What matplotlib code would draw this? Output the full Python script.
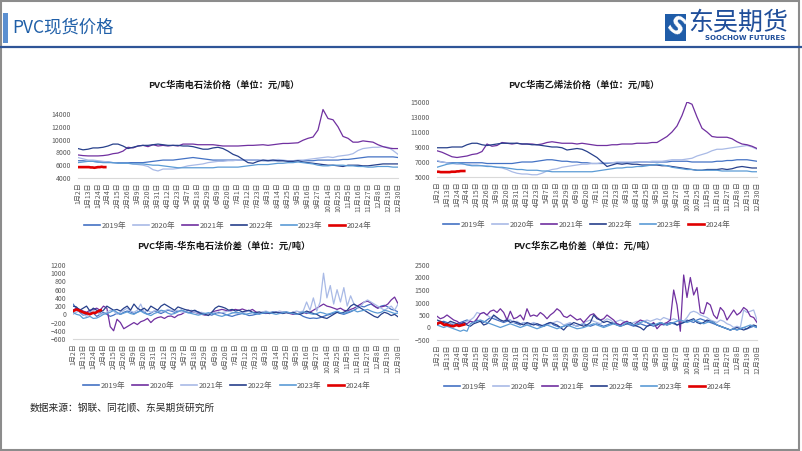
import numpy as np
import matplotlib
matplotlib.use("Agg")
import matplotlib.pyplot as plt
from matplotlib.patches import Rectangle
from matplotlib.lines import Line2D

plt.rcParams['font.family'] = ['Noto Sans CJK SC', 'DejaVu Sans']

W, H = 802, 451

years = ["2019年", "2020年", "2021年", "2022年", "2023年", "2024年"]

tick_labels = ["1月2日", "1月13日", "1月24日", "2月4日", "2月15日", "2月26日", "3月9日",
               "3月20日", "3月31日", "4月12日", "4月23日", "5月7日", "5月18日", "5月29日",
               "6月9日", "6月20日", "7月1日", "7月12日", "7月23日", "8月3日", "8月14日",
               "8月25日", "9月5日", "9月16日", "9月27日", "10月14日", "10月25日", "11月5日",
               "11月16日", "11月27日", "12月8日", "12月19日", "12月30日"]

# ---- 华南电石法价格 ----
dsf_2019 = [6700, 6700, 6600, 6600, 6500, 6500, 6500, 6400, 6400, 6400, 6400, 6400, 6400, 6400, 6500, 6600,
            6700, 6800, 6800, 6800, 6900, 7000, 7100, 7200, 7100, 7000, 6900, 6800, 6800, 6800, 6800, 6800,
            6800, 6800, 6800, 6800, 6800, 6700, 6700, 6700, 6700, 6700, 6700, 6700, 6700, 6700, 6700, 6700,
            6800, 6800, 6800, 6800, 6800, 6900, 6900, 7000, 7100, 7200, 7300, 7300, 7300, 7300, 7300, 7300, 7200]
dsf_2020 = [7200, 7000, 6800, 6800, 6700, 6600, 6500, 6400, 6300, 6300, 6300, 6200, 6100, 6000, 5800, 5300,
            5100, 5400, 5400, 5400, 5500, 5700, 5900, 6000, 6100, 6200, 6400, 6500, 6600, 6600, 6700, 6700,
            6800, 6800, 6800, 6800, 6800, 6800, 6800, 6800, 6900, 6800, 6700, 6700, 6800, 6800, 6900, 7000,
            7100, 7200, 7300, 7200, 7400, 7500, 7600, 7800, 8300, 8600, 8700, 8800, 8800, 8900, 8800, 8300, 7700]
dsf_2021 = [7600, 7500, 7450, 7450, 7450, 7500, 7600, 7800, 7900, 8200, 8800, 8700, 9000, 9100, 8900, 9200,
            9000, 9100, 9000, 9100, 9000, 9300, 9300, 9300, 9200, 9200, 9200, 9200, 9100, 9000, 9000, 9000,
            9000, 9050, 9100, 9100, 9150, 9200, 9100, 9200, 9300, 9400, 9400, 9450, 9500, 9900, 10200, 10400,
            11500, 14700, 13300, 13100, 12000, 10500, 10200, 9600, 9600, 9800, 9700, 9600, 9200, 8900, 8700, 8600, 8600]
dsf_2022 = [8600, 8400, 8500, 8700, 8700, 8800, 9000, 9300, 9300, 9000, 8600, 8800, 9000, 9100, 9100, 9200,
            9300, 9200, 9100, 9100, 9100, 9000, 9000, 8900, 8700, 8500, 8500, 8700, 8800, 8600, 8200, 7700,
            7400, 6900, 6400, 6300, 6600, 6800, 6700, 6800, 6700, 6700, 6600, 6600, 6700, 6500, 6400, 6300,
            6200, 6100, 6000, 6000, 5900, 5800, 6000, 6000, 6000, 5900, 5900, 6000, 6100, 6200, 6200, 6200, 6200]
dsf_2023 = [6400, 6500, 6600, 6600, 6500, 6400, 6400, 6400, 6300, 6300, 6300, 6200, 6200, 6200, 6100, 6000,
            6000, 5900, 5800, 5700, 5600, 5600, 5600, 5600, 5600, 5600, 5600, 5600, 5700, 5700, 5700, 5700,
            5700, 5800, 5900, 6000, 6100, 6100, 6100, 6200, 6300, 6300, 6400, 6400, 6500, 6400, 6300, 6200,
            6000, 5900, 5900, 6000, 6000, 6000, 5900, 5900, 5800, 5800, 5700, 5700, 5800, 5800, 5800, 5700, 5700]
dsf_2024 = [5700, 5700, 5700, 5700, 5700, 5700, 5700, 5650, 5650, 5600, 5650, 5700, 5700, 5750, 5700, 5700]

# ---- 华南乙烯法价格 ----
yxf_2019 = [7100, 7000, 6900, 6900, 6900, 6900, 6900, 6900, 6900, 6900, 6800, 6800, 6800, 6800, 6800, 6800,
            6900, 7000, 7000, 7000, 7100, 7200, 7300, 7300, 7200, 7100, 7100, 7000, 7000, 6900, 6900, 6800,
            6800, 6800, 6800, 6900, 6900, 6900, 6900, 6900, 7000, 7000, 7000, 7000, 7000, 7000, 7000, 7100,
            7100, 7100, 7100, 7000, 7000, 7000, 7000, 7000, 7100, 7100, 7200, 7200, 7300, 7300, 7300, 7200, 7100]
yxf_2020 = [7200, 7000, 6900, 6800, 6700, 6700, 6700, 6600, 6600, 6500, 6500, 6400, 6300, 6200, 6000, 5700,
            5500, 5400, 5400, 5300, 5300, 5500, 5800, 6000, 6100, 6300, 6400, 6500, 6600, 6700, 6700, 6800,
            6800, 6900, 6900, 6900, 7000, 7000, 7000, 7000, 7000, 7000, 7000, 7100, 7100, 7100, 7200, 7300,
            7300, 7300, 7400, 7500, 7800, 8000, 8200, 8500, 8700, 8700, 8800, 8900, 9000, 9100, 9200, 9000, 8700]
yxf_2021 = [8500, 8300, 8000, 7700, 7600, 7700, 7800, 8000, 8100, 8400, 9400, 9100, 9200, 9600, 9500, 9400,
            9500, 9400, 9400, 9400, 9300, 9400, 9600, 9700, 9600, 9500, 9500, 9500, 9400, 9500, 9400, 9300,
            9200, 9200, 9200, 9300, 9300, 9400, 9400, 9400, 9500, 9500, 9500, 9600, 9600, 10000, 10400, 11000,
            11800, 13200, 15000, 14700, 13000, 11500, 11000, 10400, 10300, 10300, 10300, 10100, 9700, 9400, 9300, 9100, 8800]
yxf_2022 = [8900, 8900, 8900, 9000, 9000, 9000, 9300, 9500, 9500, 9300, 9200, 9300, 9400, 9500, 9500, 9500,
            9500, 9400, 9400, 9300, 9300, 9200, 9100, 9000, 9000, 8900, 8600, 8700, 8800, 8700, 8400, 8000,
            7600, 7000, 6400, 6600, 6800, 6700, 6800, 6700, 6700, 6600, 6600, 6600, 6600, 6500, 6500, 6400,
            6300, 6200, 6100, 6000, 5900, 5900, 6000, 6000, 6000, 6100, 6000, 6100, 6300, 6400, 6300, 6200, 6200]
yxf_2023 = [6300, 6500, 6700, 6800, 6900, 6800, 6600, 6500, 6500, 6500, 6400, 6400, 6300, 6300, 6200, 6100,
            6000, 6000, 5900, 5900, 5900, 5800, 5800, 5700, 5700, 5700, 5700, 5700, 5700, 5700, 5700, 5700,
            5800, 5900, 6000, 6100, 6200, 6200, 6300, 6300, 6400, 6400, 6500, 6600, 6700, 6600, 6500, 6300,
            6200, 6100, 6000, 6000, 5900, 5900, 5900, 5900, 5900, 5800, 5800, 5800, 5800, 5800, 5800, 5700, 5700]
yxf_2024 = [5700, 5700, 5650, 5650, 5650, 5650, 5650, 5650, 5700, 5700, 5700, 5750, 5750, 5800, 5800, 5800]

# ---- 华南-华东电石法价差 ----
jc_2019 = [250, 150, 50, -20, 0, 50, 30, -50, 0, 50,
           0, -50, -20, 30, 0, 50, 80, 60, 20, 50,
           100, 60, 0, 30, 80, 50, 20, 60, 100, 80,
           50, 80, 100, 60, 40, 50, 80, 60, 30, 20,
           0, -20, 20, 50, 30, 0, -30, -50, -20, 0,
           20, 0, -30, -20, 0, 20, 30, 20, 40, 60,
           50, 40, 60, 50, 40, 30, 20, 0, -50, -80,
           -100, -90, -100, -80, -50, -20, 0, 30, 50, 20,
           0, 30, 60, 100, 150, 200, 180, 220, 250, 200,
           150, 200, 220, 180, 120, 100, 60]
jc_2020 = [100, 150, 120, 80, 50, 100, 120, 150, 100, 200,
           150, -300, -400, -120, -200, -350, -300, -250, -200, -250,
           -180, -150, -100, -200, -120, -80, -60, -100, -50, -40,
           -80, -20, 0, 50, 100, 80, 50, 20, 0, -20,
           0, 50, 80, 100, 120, 100, 80, 100, 120, 100,
           130, 100, 80, 120, 60, 30, 50, 40, 20, 30,
           50, 40, 30, 50, 20, 0, 10, 30, 50, 20,
           50, 100, 150, 200, 250, 200, 180, 150, 120, 150,
           100, 80, 120, 150, 200, 250, 300, 320, 280, 200,
           150, 180, 200, 250, 350, 420, 260]
jc_2021 = [0, 50, 100, 0, -50, 50, 100, 50, 0, 20,
           50, 100, 80, 0, 50, 100, 150, 80, 50, 100,
           250, 60, 100, 50, 80, 100, 50, 80, 120, 100,
           80, 100, 60, 50, 80, 100, 50, 30, 50, 20,
           0, 30, 50, 20, 40, 60, 80, 50, 30, 20,
           40, 60, 80, 50, 30, 40, 60, 80, 50, 30,
           50, 80, 60, 40, 30, 50, 80, 60, 80, 300,
           100, 400, 80, 300, 1000, 400, 700, 250, 600, 300,
           650, 200, 450, 250, 150, 200, 300, 350, 300, 250,
           200, 150, 100, 150, 200, 100, 250]
jc_2022 = [200, 180, 100, 150, 200, 80, 150, 100, 50, 100,
           200, 150, 100, 120, 80, 150, 200, 100, 250, 150,
           100, 150, 80, 200, 150, 100, 200, 250, 200, 150,
           100, 180, 150, 120, 100, 80, 100, 50, 20, 0,
           -30, 50, 150, 200, 180, 150, 100, 120, 80, 100,
           60, 80, 100, 50, 40, 60, 30, 50, 20, 40,
           50, 30, 20, 40, 30, 50, 20, 0, 30, 80,
           50, 20, 0, -50, -80, -100, -50, 0, 50, 30,
           50, 100, 200, 250, 200, 150, 100, 50, 0, -50,
           -80, 0, 50, 20, -30, 0, -60]
jc_2023 = [50, 0, -20, -100, -80, -50, -100, -90, -50, 0,
           20, 50, 100, 50, 0, 30, 60, 20, 0, 50,
           80, 30, 0, -30, 20, 50, 100, 80, 30, 0,
           20, 60, 100, 80, 40, 20, 0, -20, 0, 20,
           40, 20, 0, -30, -50, -20, 0, 30, 50, 40,
           20, 0, 20, 40, 20, 0, 30, 50, 40, 20,
           0, 20, 40, 60, 40, 20, 0, 30, 60, 40,
           20, 0, 20, 50, 30, 0, 20, 50, 80, 40,
           20, 50, 80, 100, 60, 80, 100, 120, 80, 50,
           30, 50, 100, 80, 50, 20, 30]
jc_2024 = [80, 100, 120, 100, 80, 60, 40, 30, 20, 0, 20, 40, 30, 60, 80, 100]

# ---- 华东乙电价差 ----
yd_2019 = [100, 200, 250, 200, 150, 100, 150, 200, 250, 300,
           250, 200, 300, 250, 200, 300, 400, 350, 300, 250,
           200, 250, 300, 200, 150, 100, 200, 150, 100, 150,
           100, 50, 100, 150, 200, 100, 50, 0, 50, 100,
           150, 100, 50, 100, 150, 100, 50, 100, 150, 100,
           50, 100, 150, 200, 150, 100, 200, 150, 100, 50,
           100, 150, 100, 50, 100, 50, 100, 150, 100, 150,
           200, 150, 100, 150, 200, 300, 250, 200, 300, 350,
           300, 250, 200, 150, 100, 50, 0, -50, -100, -50,
           -100, -50, 0, -50, 0, 50, 0]
yd_2020 = [200, 250, 150, 100, 200, 150, 100, 150, 200, 250,
           300, 400, 600, 550, 600, 500, 400, 450, 350, 300,
           250, 350, 300, 200, 250, 150, 200, 100, 150, 200,
           150, 100, 50, 100, 150, 200, 250, 200, 100, 150,
           200, 100, 50, 100, 200, 250, 300, 250, 200, 150,
           250, 350, 300, 200, 250, 300, 250, 200, 150, 200,
           250, 200, 250, 300, 250, 300, 350, 300, 400, 350,
           300, 350, 300, 200, 250, 400, 600, 650, 600, 500,
           450, 400, 300, 250, 200, 300, 250, 150, 100, 0,
           50, 0, 700, 600, 650, 700, 300]
yd_2021 = [450, 350, 400, 500, 400, 300, 250, 150, 200, 150,
           250, 200, 350, 550, 600, 500, 650, 700, 600, 750,
           600, 300, 650, 350, 400, 500, 300, 750, 450, 500,
           450, 600, 500, 350, 500, 600, 750, 650, 450, 400,
           500, 400, 300, 350, 200, 350, 500, 550, 400, 300,
           350, 500, 400, 300, 150, 100, 200, 250, 150, 100,
           200, 300, 250, 200, 100, 200, -50, 100, 150, 200,
           300, 1500, 900, -150, 2100, 1200, 2000, 1300, 1600, 600,
           550, 1000, 900, 500, 350, 800, 650, 300, 500, 700,
           500, 600, 800, 700, 450, 400, 200]
yd_2022 = [300, 250, 200, 150, 250, 200, 150, 100, 200, 100,
           50, 150, 200, 250, 100, 150, 300, 500, 400, 300,
           250, 300, 200, 250, 200, 150, 100, 200, 150, 100,
           150, 100, 50, 150, 200, 150, 100, 0, -100, 50,
           100, 200, 150, 100, 50, 100, 200, 500, 350, 300,
           200, 250, 200, 150, 100, 50, 100, 150, 200, 100,
           50, 0, -100, 50, 100, 150, 100, 200, 150, 100,
           150, 200, 100, 150, 200, 250, 300, 350, 200, 150,
           200, 300, 250, 200, 100, 50, 0, -50, -100, -50,
           0, -50, -100, -50, 50, 100, 50]
yd_2023 = [100, 50, 0, 50, 0, -50, -100, -150, -100, -150,
           150, 200, 250, 300, 250, 200, 150, 100, 50, 0,
           50, 100, 150, 100, 50, 0, 50, 100, 50, 0,
           -50, 0, 50, 100, 50, 0, -50, 0, 50, 100,
           50, 0, -50, -30, 0, 50, 100, 150, 100, 50,
           0, 50, 100, 150, 100, 50, 100, 200, 150, 100,
           150, 200, 250, 200, 150, 100, 150, 200, 150, 100,
           150, 200, 250, 300, 250, 200, 250, 300, 250, 200,
           150, 200, 250, 200, 100, 50, 0, -50, -100, -50,
           -100, -50, 0, 50, 100, 50, 0]
yd_2024 = [150, 180, 200, 150, 100, 120, 100, 80, 60, 50, 80, 100, 60, 80, 100, 120]

C19 = "#4472C4"
CLT = "#A9BAE6"
CPU = "#7030A0"
C22 = "#27408B"
C23 = "#5B9BD5"
CRD = "#E00000"


def px(x, y):
    return x / W, 1 - y / H


def draw_panel(ax, series, colors, ylim, yticks, title, title_xy, legend_xy):
    n_cat = 352
    for i, vals in enumerate(series):
        vals = np.array(vals)
        if i == 5:
            x = np.arange(len(vals)) * 2
            ax.plot(x, vals, color=colors[i], lw=1.9, zorder=5)
        else:
            x = np.linspace(0, n_cat, len(vals))
            ax.plot(x, vals, color=colors[i], lw=0.9)
    ax.set_xlim(0, n_cat)
    ax.set_ylim(*ylim)
    ax.set_yticks(yticks)
    ax.set_xticks(np.arange(0, n_cat + 1, 11))
    ax.set_xticklabels(tick_labels, rotation=90, fontsize=5, color="#595959")
    ax.tick_params(axis="y", labelsize=5, labelcolor="#595959", length=0, pad=5)
    ax.tick_params(axis="x", length=0, pad=3)
    for s in ["top", "right", "left"]:
        ax.spines[s].set_visible(False)
    ax.spines["bottom"].set_color("#D9D9D9")
    ax.spines["bottom"].set_linewidth(0.8)
    fig.text(*px(*title_xy), title, ha="center", va="center", fontsize=6.7, fontweight="bold", color="#1A1A1A")
    handles = [Line2D([], [], color=c, lw=1.9 if i == 5 else 1.2) for i, c in enumerate(colors)]
    fig.legend(handles, years, loc="center", bbox_to_anchor=px(*legend_xy), ncol=6, frameon=False,
               fontsize=5.5, labelcolor="#595959", handlelength=2.1, handletextpad=0.2, columnspacing=0.9)


fig = plt.figure(figsize=(W / 100, H / 100), dpi=100)

# header
fig.add_artist(Rectangle(px(3, 43), 5 / W, 30 / H, transform=fig.transFigure, color="#5B8FD0", lw=0))
fig.text(*px(12, 28), "PVC现货价格", ha="left", va="center", fontsize=12.5, color="#1F5FA8")
fig.add_artist(Line2D([0, 1], [1 - 46.5 / H] * 2, transform=fig.transFigure, color="#2F5597", lw=1.6))
fig.add_artist(Rectangle(px(665, 41), 21 / W, 27 / H, transform=fig.transFigure, color="#1F5CA8", lw=0))
fig.text(*px(675.5, 27.5), "S", ha="center", va="center", fontsize=17, fontweight="bold",
         color="white", rotation=-35, family="DejaVu Sans")
fig.text(*px(688, 23), "东吴期货", ha="left", va="center", fontsize=18, color="#1F4E9A")
fig.text(*px(745, 37.5), "SOOCHOW FUTURES", ha="center", va="center", fontsize=5, fontweight="bold",
         color="#1F4E9A", family="DejaVu Sans")
# slide border
fig.add_artist(Rectangle((0.001, 0.002), 0.995, 0.996, transform=fig.transFigure, fill=False,
                         edgecolor="#8C8C8C", lw=1.5))

ax1 = fig.add_axes([78 / W, 1 - 178 / H, 320 / W, 70.4 / H])
draw_panel(ax1, [dsf_2019, dsf_2020, dsf_2021, dsf_2022, dsf_2023, dsf_2024],
           [C19, CLT, CPU, C22, C23, CRD], (4000, 15000), np.arange(4000, 14001, 2000),
           "PVC华南电石法价格（单位：元/吨）", (224, 85), (228, 226))

ax2 = fig.add_axes([437 / W, 1 - 177 / H, 320 / W, 75 / H])
draw_panel(ax2, [yxf_2019, yxf_2020, yxf_2021, yxf_2022, yxf_2023, yxf_2024],
           [C19, CLT, CPU, C22, C23, CRD], (5000, 15000), np.arange(5000, 15001, 2000),
           "PVC华南乙烯法价格（单位：元/吨）", (584, 85), (587, 225))

ax3 = fig.add_axes([73 / W, 1 - 339 / H, 325 / W, 74 / H])
draw_panel(ax3, [jc_2019, jc_2020, jc_2021, jc_2022, jc_2023, jc_2024],
           [C19, CPU, CLT, C22, C23, CRD], (-600, 1200), np.arange(-600, 1201, 200),
           "PVC华南-华东电石法价差（单位：元/吨）", (224, 246), (227, 386))

ax4 = fig.add_axes([437 / W, 1 - 340 / H, 320 / W, 75 / H])
draw_panel(ax4, [yd_2019, yd_2020, yd_2021, yd_2022, yd_2023, yd_2024],
           [C19, CLT, CPU, C22, C23, CRD], (-500, 2500), np.arange(-500, 2501, 500),
           "PVC华东乙电价差（单位：元/吨）", (584, 246), (588, 387))

fig.text(*px(30, 408), "数据来源：钢联、同花顺、东吴期货研究所", ha="left", va="center", fontsize=7, color="#262626")

fig.savefig("out.png", dpi=100)
